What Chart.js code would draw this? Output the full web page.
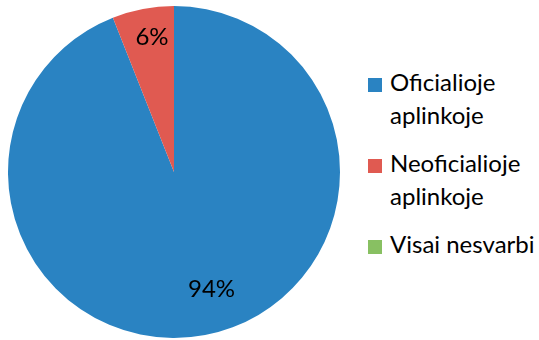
<!DOCTYPE html>
<html lang="lt">
  <head>
    <meta charset="UTF-8" />
    <title>Aplinka</title>
    <script src="https://cdn.jsdelivr.net/npm/chart.js@4.4.1/dist/chart.umd.min.js"></script>
    <style>
      html,
      body {
        margin: 0;
        padding: 0;
        background: #fff;
        overflow: hidden;
      }
      .chart-container {
        position: absolute;
        left: 8px;
        top: 6px;
        width: 332px;
        height: 332px;
      }
      #legend {
        position: absolute;
        left: 368px;
        top: 65px;
        width: 171px;
        display: flex;
        flex-direction: column;
        gap: 15px;
        font-family: Lato, sans-serif;
        font-size: 24px;
        line-height: 33px;
        color: #000;
      }
      #legend .item {
        display: flex;
        align-items: flex-start;
      }
      #legend .box {
        flex: none;
        width: 14px;
        height: 14px;
        margin-top: 13px;
        margin-right: 8px;
      }
    </style>
  </head>
  <body>
    <div class="chart-container">
      <canvas id="chart-aplinka"></canvas>
    </div>
    <div id="legend"></div>
  </body>
  <script>
    const labels = ["Oficialioje aplinkoje", "Neoficialioje aplinkoje", "Visai nesvarbi"];
    const values = [94, 6, 0];
    const colors = ["#2a83c2", "#e05a51", "#88c062"];

    // percent labels inside the slices
    const percentLabels = {
      id: "percentLabels",
      afterDatasetsDraw(chart, args, opts) {
        const { ctx } = chart;
        const meta = chart.getDatasetMeta(0);
        const data = chart.data.datasets[0].data;
        const total = data.reduce((a, b) => a + b, 0);
        ctx.save();
        ctx.font = "24px Lato, sans-serif";
        ctx.fillStyle = "#000";
        ctx.textAlign = "center";
        ctx.textBaseline = "middle";
        meta.data.forEach((arc, i) => {
          if (!data[i]) return;
          const place = opts.place[i];
          const { x, y, startAngle, endAngle, outerRadius } = arc.getProps(
            ["x", "y", "startAngle", "endAngle", "outerRadius"],
            true
          );
          const mid = (startAngle + endAngle) / 2 + (place.shift * Math.PI) / 180;
          const r = outerRadius * place.r;
          const pct = Math.round((data[i] / total) * 100) + "%";
          ctx.fillText(pct, x + Math.cos(mid) * r, y + Math.sin(mid) * r);
        });
        ctx.restore();
      },
    };

    new Chart(document.getElementById("chart-aplinka"), {
      type: "pie",
      data: {
        labels: labels,
        datasets: [
          {
            data: values,
            backgroundColor: colors,
            borderWidth: 0,
          },
        ],
      },
      options: {
        responsive: true,
        maintainAspectRatio: false,
        animation: false,
        layout: { padding: 0 },
        plugins: {
          legend: { display: false },
          tooltip: { enabled: false },
          percentLabels: {
            place: [
              { r: 0.74, shift: -7 },
              { r: 0.82, shift: 1.5 },
              { r: 0.8, shift: 0 },
            ],
          },
        },
      },
      plugins: [percentLabels],
    });

    const legend = document.getElementById("legend");
    labels.forEach((label, i) => {
      const item = document.createElement("div");
      item.className = "item";
      const box = document.createElement("span");
      box.className = "box";
      box.style.background = colors[i];
      const text = document.createElement("span");
      text.textContent = label;
      item.appendChild(box);
      item.appendChild(text);
      legend.appendChild(item);
    });
  </script>
</html>
